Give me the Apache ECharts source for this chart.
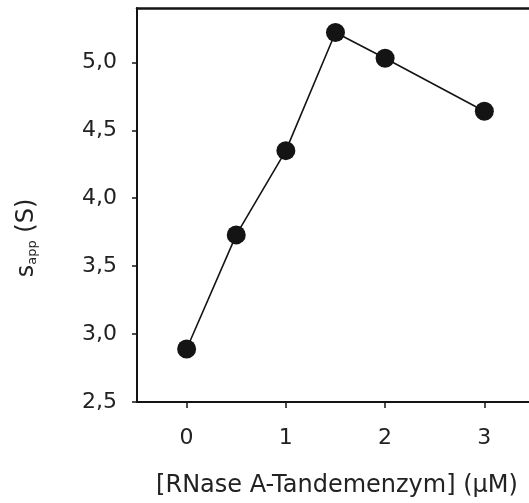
<!DOCTYPE html>
<html>
<head>
<meta charset="utf-8">
<script src="https://cdn.jsdelivr.net/npm/echarts@6/dist/echarts.min.js"></script>
<style>
  html, body { margin: 0; padding: 0; background: #fff; }
  #chart { width: 529px; height: 503px; }
</style>
</head>
<body>
<div id="chart"></div>
<script>
// Daten
const concentrations = [0, 0.5, 1, 1.5, 2, 3];
const sValues = [2.89, 3.73, 4.35, 5.22, 5.03, 4.64];
const xTicks = [0, 1, 2, 3];
const yTicks = [2.5, 3.0, 3.5, 4.0, 4.5, 5.0];

const ink = '#141414';
const textColor = '#222';
const font = 'DejaVu Sans, Liberation Sans, sans-serif';

const chart = echarts.init(document.getElementById('chart'));

chart.setOption({
    animation: false,
    grid: { left: 137, top: 8, bottom: 100, right: 0 },
    xAxis: [{
        type: 'value',
        min: -0.5, max: 3.45,
        splitLine: { show: false },
        axisLine: { onZero: false, lineStyle: { color: ink, width: 2 } },
        axisTick: { customValues: xTicks, length: 6, lineStyle: { color: ink, width: 1.5 } },
        axisLabel: {
            customValues: xTicks, margin: 25,
            color: textColor, fontSize: 22, fontFamily: font
        },
        name: '[RNase A-Tandemenzym] (μM)',
        nameLocation: 'middle',
        nameGap: 72,
        nameTextStyle: { color: textColor, fontSize: 24, fontFamily: font, padding: [0, 0, 0, 8] }
    }, {
        // obere Rahmenlinie
        type: 'value',
        position: 'top',
        min: -0.5, max: 3.45,
        splitLine: { show: false },
        axisLine: { onZero: false, lineStyle: { color: ink, width: 2.5 } },
        axisTick: { show: false },
        axisLabel: { show: false }
    }],
    yAxis: {
        type: 'value',
        min: 2.5, max: 5.4,
        splitLine: { show: false },
        axisLine: { show: true, onZero: false, lineStyle: { color: ink, width: 2 } },
        axisTick: { show: true, customValues: yTicks, length: 5, lineStyle: { color: ink, width: 1.5 } },
        axisLabel: {
            customValues: yTicks, margin: 20,
            color: textColor, fontSize: 22, fontFamily: font,
            formatter: v => v.toFixed(1).replace('.', ',')
        },
        name: '{m|s}{sub|app}{m| (S)}',
        nameLocation: 'middle',
        nameRotate: 90,
        nameGap: 98,
        nameTextStyle: {
            color: textColor, fontFamily: font,
            padding: [0, 66, 0, 0],
            rich: {
                m: { fontSize: 24, color: textColor, fontFamily: font },
                sub: { fontSize: 13, color: textColor, fontFamily: font, verticalAlign: 'bottom' }
            }
        }
    },
    series: [{
        type: 'line',
        xAxisIndex: 0,
        data: concentrations.map((c, i) => [c, sValues[i]]),
        symbol: 'circle',
        symbolSize: 19,
        lineStyle: { color: ink, width: 1.6 },
        itemStyle: { color: ink }
    }]
});
</script>
</body>
</html>
